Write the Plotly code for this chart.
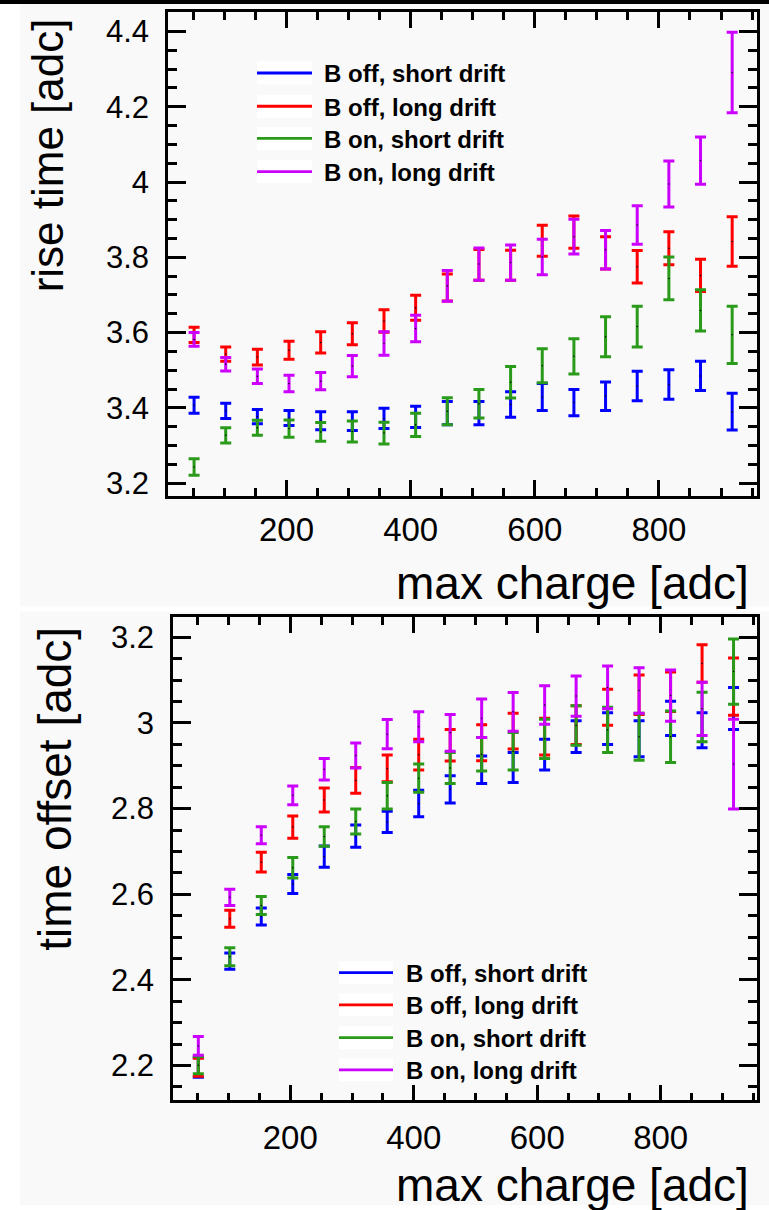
import plotly.graph_objects as go

# ---------------- data ----------------
max_charge = [51, 102, 153, 204, 255, 306, 357, 408, 459, 510, 561, 612, 663, 714, 765, 816, 867, 918]

series_names = ["B off, short drift", "B off, long drift", "B on, short drift", "B on, long drift"]
series_colors = ["#0000ff", "#ff0000", "#2a9a1a", "#cc00ff"]

# rise time [adc] (top panel)
rise_boff_short = [3.407, 3.392, 3.377, 3.373, 3.366, 3.365, 3.372, 3.376, 3.386, 3.386, 3.409, 3.429, 3.414, 3.431, 3.458, 3.462, 3.485, 3.390]
rise_boff_short_err = [0.021, 0.020, 0.019, 0.020, 0.024, 0.025, 0.027, 0.028, 0.031, 0.031, 0.034, 0.036, 0.035, 0.038, 0.039, 0.039, 0.039, 0.049]
rise_boff_long = [3.594, 3.543, 3.535, 3.553, 3.574, 3.597, 3.631, 3.666, 3.720, 3.780, 3.779, 3.844, 3.867, 3.812, 3.775, 3.824, 3.752, 3.842]
rise_boff_long_err = [0.020, 0.019, 0.021, 0.024, 0.028, 0.029, 0.030, 0.033, 0.036, 0.041, 0.040, 0.041, 0.043, 0.043, 0.043, 0.044, 0.043, 0.066]
rise_bon_short = [3.243, 3.327, 3.347, 3.345, 3.336, 3.337, 3.333, 3.355, 3.391, 3.411, 3.468, 3.512, 3.537, 3.589, 3.616, 3.744, 3.659, 3.594]
rise_bon_short_err = [0.022, 0.020, 0.020, 0.023, 0.025, 0.028, 0.029, 0.031, 0.036, 0.038, 0.042, 0.045, 0.047, 0.053, 0.054, 0.057, 0.055, 0.076]
rise_bon_long = [3.582, 3.516, 3.484, 3.465, 3.471, 3.511, 3.571, 3.611, 3.724, 3.782, 3.786, 3.801, 3.855, 3.820, 3.886, 3.995, 4.057, 4.291]
rise_bon_long_err = [0.018, 0.018, 0.019, 0.022, 0.023, 0.028, 0.031, 0.035, 0.041, 0.043, 0.047, 0.047, 0.046, 0.051, 0.051, 0.061, 0.063, 0.107]

# time offset [adc] (bottom panel)
toff_boff_short = [2.196, 2.444, 2.548, 2.624, 2.688, 2.736, 2.769, 2.812, 2.845, 2.891, 2.896, 2.926, 2.968, 2.987, 2.963, 3.011, 2.983, 3.034]
toff_boff_short_err = [0.023, 0.019, 0.020, 0.022, 0.025, 0.026, 0.025, 0.031, 0.032, 0.032, 0.035, 0.036, 0.037, 0.037, 0.042, 0.040, 0.041, 0.049]
toff_boff_long = [2.196, 2.543, 2.675, 2.757, 2.820, 2.866, 2.894, 2.926, 2.948, 2.954, 2.981, 2.968, 2.995, 3.037, 3.066, 3.073, 3.139, 3.085]
toff_boff_long_err = [0.021, 0.020, 0.023, 0.026, 0.028, 0.030, 0.031, 0.036, 0.037, 0.042, 0.042, 0.043, 0.045, 0.042, 0.046, 0.046, 0.044, 0.067]
toff_bon_short = [2.201, 2.454, 2.574, 2.662, 2.735, 2.770, 2.830, 2.871, 2.895, 2.927, 2.934, 2.963, 2.994, 2.984, 2.968, 2.968, 3.014, 3.120]
toff_bon_short_err = [0.020, 0.021, 0.021, 0.024, 0.023, 0.029, 0.031, 0.033, 0.036, 0.039, 0.044, 0.046, 0.046, 0.053, 0.055, 0.060, 0.058, 0.076]
toff_bon_long = [2.246, 2.593, 2.738, 2.831, 2.892, 2.924, 2.974, 2.991, 2.977, 3.011, 3.026, 3.042, 3.063, 3.083, 3.076, 3.064, 3.033, 2.904]
toff_bon_long_err = [0.022, 0.019, 0.020, 0.022, 0.025, 0.029, 0.034, 0.035, 0.043, 0.045, 0.045, 0.045, 0.047, 0.050, 0.053, 0.060, 0.062, 0.105]

x_title = "max charge [adc]"
y_title_top = "rise time [adc]"
y_title_bottom = "time offset [adc]"

top_values = [rise_boff_short, rise_boff_long, rise_bon_short, rise_bon_long]
top_errors = [rise_boff_short_err, rise_boff_long_err, rise_bon_short_err, rise_bon_long_err]
bottom_values = [toff_boff_short, toff_boff_long, toff_bon_short, toff_bon_long]
bottom_errors = [toff_boff_short_err, toff_boff_long_err, toff_bon_short_err, toff_bon_long_err]

# ---------------- figure ----------------
W, H = 769, 1210
FONT = "Liberation Sans, Arial, Helvetica, sans-serif"

fig = go.Figure()

def add_panel(values, errors, xa, ya):
    for name, color, yv, ev in zip(series_names, series_colors, values, errors):
        fig.add_trace(go.Scatter(
            x=max_charge, y=yv, name=name, mode="markers",
            marker=dict(size=1.5, color="black"),
            error_y=dict(type="data", array=ev, visible=True, color=color,
                         thickness=3, width=5.5),
            xaxis=xa, yaxis=ya, showlegend=False,
        ))

add_panel(top_values, top_errors, "x", "y")
add_panel(bottom_values, bottom_errors, "x2", "y2")

def px_x(p):
    return p / W

def px_y(p):
    return 1 - p / H

axis_common = dict(
    showline=True, linecolor="black", linewidth=2.6, mirror="allticks",
    ticks="inside", tickwidth=2.6, tickcolor="black",
    showgrid=False, zeroline=False,
)

# top panel frame: x 168-757, y 12-498 px ; bottom: x 173-757, y 620-1105
fig.update_layout(
    width=W, height=H,
    margin=dict(l=0, r=0, t=0, b=0),
    paper_bgcolor="#ffffff",
    plot_bgcolor="#f9f9f9",
    font=dict(family=FONT, color="black"),
    showlegend=False,
    xaxis=dict(domain=[px_x(168), px_x(757)], range=[9, 958], anchor="y",
               dtick=200, tick0=0, ticklen=16,
               minor=dict(dtick=50, tick0=0, ticks="inside", ticklen=8, tickwidth=2.6, tickcolor="black"),
               tickfont=dict(size=33, family=FONT), ticklabelstandoff=3, **axis_common),
    yaxis=dict(domain=[px_y(498), px_y(12)], range=[3.166, 4.452], anchor="x",
               dtick=0.2, tick0=0, ticklen=18,
               minor=dict(dtick=0.05, tick0=0, ticks="inside", ticklen=9, tickwidth=2.6, tickcolor="black"),
               tickfont=dict(size=31, family=FONT), ticklabelstandoff=10, **axis_common),
    xaxis2=dict(domain=[px_x(173), px_x(757)], range=[10, 956], anchor="y2",
                dtick=200, tick0=0, ticklen=16,
                minor=dict(dtick=50, tick0=0, ticks="inside", ticklen=8, tickwidth=2.6, tickcolor="black"),
                tickfont=dict(size=33, family=FONT), ticklabelstandoff=6, **axis_common),
    yaxis2=dict(domain=[px_y(1105), px_y(620)], range=[2.1186, 3.2465], anchor="x2",
                dtick=0.2, tick0=0, ticklen=18,
                minor=dict(dtick=0.05, tick0=0, ticks="inside", ticklen=9, tickwidth=2.6, tickcolor="black"),
                tickfont=dict(size=31, family=FONT), ticklabelstandoff=10, **axis_common),
)

shapes = []
# background canvases (ROOT pads) and the dark strip on top
shapes.append(dict(type="rect", xref="paper", yref="paper", x0=px_x(20), x1=1, y0=px_y(609), y1=px_y(4),
                   fillcolor="#f9f9f9", line=dict(width=0), layer="below"))
shapes.append(dict(type="rect", xref="paper", yref="paper", x0=px_x(20), x1=1, y0=0, y1=px_y(614),
                   fillcolor="#f9f9f9", line=dict(width=0), layer="below"))
shapes.append(dict(type="rect", xref="paper", yref="paper", x0=0, x1=1, y0=px_y(4), y1=1,
                   fillcolor="#000000", line=dict(width=0), layer="above"))

annotations = []

def add_legend(x_line0, x_line1, x_text, rows_y):
    for name, color, ry in zip(series_names, series_colors, rows_y):
        shapes.append(dict(type="rect", xref="paper", yref="paper",
                           x0=px_x(x_line0), x1=px_x(x_line1), y0=px_y(ry + 11.5), y1=px_y(ry - 11.5),
                           fillcolor="#ffffff", line=dict(width=0), layer="above"))
        shapes.append(dict(type="line", xref="paper", yref="paper",
                           x0=px_x(x_line0), x1=px_x(x_line1), y0=px_y(ry), y1=px_y(ry),
                           line=dict(color=color, width=2.8), layer="above"))
        annotations.append(dict(text="<b>%s</b>" % name, xref="paper", yref="paper",
                                x=px_x(x_text), y=px_y(ry + 1), xanchor="left", yanchor="middle",
                                showarrow=False, font=dict(size=24, family=FONT, color="black")))

add_legend(257, 312, 322, [73.3, 106.7, 139.0, 172.3])
add_legend(339, 393, 404, [976.7, 1009.0, 1042.0, 1074.3])

# axis titles (ROOT style: aligned at the end of the axis)
annotations.append(dict(text=x_title, xref="paper", yref="paper", x=px_x(751), y=px_y(585),
                        xanchor="right", yanchor="middle", showarrow=False,
                        font=dict(size=46, family=FONT, color="black")))
annotations.append(dict(text=x_title, xref="paper", yref="paper", x=px_x(751), y=px_y(1190),
                        xanchor="right", yanchor="middle", showarrow=False,
                        font=dict(size=46, family=FONT, color="black")))
annotations.append(dict(text=y_title_top, xref="paper", yref="paper", x=px_x(47), y=px_y(156),
                        xanchor="center", yanchor="middle", textangle=-90, showarrow=False,
                        font=dict(size=44, family=FONT, color="black")))
annotations.append(dict(text=y_title_bottom, xref="paper", yref="paper", x=px_x(55), y=px_y(792),
                        xanchor="center", yanchor="middle", textangle=-90, showarrow=False,
                        font=dict(size=46, family=FONT, color="black")))

fig.update_layout(shapes=shapes, annotations=annotations)

fig.write_html("out.html")
